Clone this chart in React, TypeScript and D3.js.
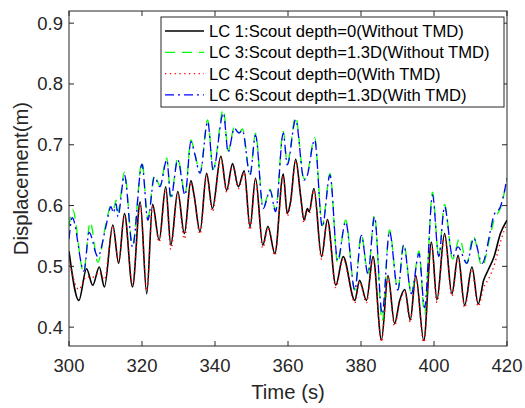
// App.tsx — displacement time history, four load cases, D3 scales + JSX.
import * as d3 from "d3";

// [time (s), displacement (m)] read at turning points of each curve
const lc1: [number, number][] = [
  [300, 0.525], [302.7, 0.444], [304.8, 0.496], [306.5, 0.469], [308.3, 0.499], [309.7, 0.466],
  [312.0, 0.568], [313.6, 0.505], [315.2, 0.587], [317.4, 0.466], [319.5, 0.606], [321.3, 0.455],
  [322.9, 0.602], [324.7, 0.543], [326.5, 0.631], [327.9, 0.535], [329.8, 0.623], [331.6, 0.554],
  [333.4, 0.641], [334.3, 0.616], [335.9, 0.557], [337.7, 0.653], [339.3, 0.595], [341.6, 0.681],
  [343.2, 0.625], [344.8, 0.669], [346.4, 0.631], [348.0, 0.657], [349.6, 0.565], [351.1, 0.645],
  [353.1, 0.535], [354.5, 0.566], [356.4, 0.521], [358.7, 0.652], [359.8, 0.587], [360.7, 0.606],
  [362.1, 0.676], [363.5, 0.614], [364.4, 0.576], [365.3, 0.595], [365.8, 0.59], [367.1, 0.628],
  [369.2, 0.516], [370.8, 0.577], [373.1, 0.469], [375.1, 0.516], [378.3, 0.444], [379.6, 0.477],
  [381.5, 0.444], [383.3, 0.516], [385.6, 0.379], [387.4, 0.485], [389.2, 0.406], [390.6, 0.444],
  [392.0, 0.462], [393.5, 0.412], [395.0, 0.485], [397.2, 0.378], [399.3, 0.54], [400.8, 0.445],
  [402.9, 0.554], [404.9, 0.455], [406.6, 0.518], [408.4, 0.436], [410.4, 0.499], [412.1, 0.438],
  [413.6, 0.477], [415.0, 0.496], [416.4, 0.515], [418.2, 0.554], [420, 0.576],
];

const lc3: [number, number][] = [
  [300, 0.565], [301.0, 0.593], [304.0, 0.49], [305.8, 0.573], [307.9, 0.507], [310.1, 0.57],
  [311.5, 0.6], [312.2, 0.594], [312.9, 0.609], [313.4, 0.59], [315.2, 0.655], [317.4, 0.535],
  [320.0, 0.672], [321.6, 0.58], [323.4, 0.65], [324.9, 0.633], [326.8, 0.678], [327.9, 0.614],
  [329.8, 0.678], [331.8, 0.619], [333.4, 0.708], [334.4, 0.688], [335.9, 0.655], [338.0, 0.741],
  [339.5, 0.66], [342.3, 0.758], [343.6, 0.69], [345.3, 0.729], [346.6, 0.72], [347.5, 0.726],
  [349.6, 0.652], [351.1, 0.719], [353.2, 0.597], [355.1, 0.627], [356.6, 0.592], [358.7, 0.722],
  [359.8, 0.669], [362.1, 0.746], [364.4, 0.644], [365.2, 0.65], [367.3, 0.712], [369.4, 0.567],
  [371.5, 0.653], [373.6, 0.505], [375.8, 0.576], [378.3, 0.461], [380.1, 0.553], [381.9, 0.488],
  [383.7, 0.585], [385.8, 0.41], [387.8, 0.56], [390.1, 0.461], [391.7, 0.538], [393.8, 0.455],
  [395.9, 0.525], [397.4, 0.422], [399.6, 0.622], [401.3, 0.516], [402.9, 0.602], [405.1, 0.512],
  [407.0, 0.546], [409.0, 0.505], [410.7, 0.55], [413.2, 0.5], [415.4, 0.55], [416.4, 0.575],
  [418.2, 0.596], [420, 0.642],
];

const lc4: [number, number][] = [
  [300, 0.51], [302.7, 0.462], [304.8, 0.483], [306.5, 0.482], [308.3, 0.49], [309.7, 0.478],
  [312.0, 0.565], [313.6, 0.508], [315.2, 0.583], [317.4, 0.47], [319.5, 0.6], [321.3, 0.46],
  [322.9, 0.598], [324.7, 0.54], [326.5, 0.626], [327.9, 0.528], [329.8, 0.62], [331.6, 0.545],
  [333.4, 0.638], [334.3, 0.614], [335.9, 0.553], [337.7, 0.65], [339.3, 0.59], [341.6, 0.678],
  [343.2, 0.622], [344.8, 0.666], [346.4, 0.628], [348.0, 0.654], [349.6, 0.56], [351.1, 0.642],
  [353.1, 0.53], [354.5, 0.563], [356.4, 0.518], [358.7, 0.649], [359.8, 0.583], [360.7, 0.603],
  [362.1, 0.673], [363.5, 0.611], [364.4, 0.572], [365.3, 0.592], [365.8, 0.587], [367.1, 0.625],
  [369.2, 0.512], [370.8, 0.574], [373.1, 0.465], [375.1, 0.512], [378.3, 0.44], [379.6, 0.474],
  [381.5, 0.44], [383.3, 0.512], [385.6, 0.376], [387.4, 0.482], [389.2, 0.402], [390.6, 0.44],
  [392.0, 0.458], [393.5, 0.408], [395.0, 0.482], [397.2, 0.375], [399.3, 0.536], [400.8, 0.441],
  [402.9, 0.55], [404.9, 0.451], [406.6, 0.514], [408.4, 0.432], [410.4, 0.495], [412.1, 0.434],
  [413.6, 0.465], [415.0, 0.48], [416.4, 0.5], [418.2, 0.54], [420, 0.572],
];

const lc6: [number, number][] = [
  [300, 0.545], [300.9, 0.58], [304.1, 0.492], [305.5, 0.556], [307.9, 0.516], [310.1, 0.565],
  [311.5, 0.598], [312.2, 0.588], [312.9, 0.603], [313.4, 0.582], [315.2, 0.65], [317.4, 0.532],
  [320.0, 0.668], [321.6, 0.576], [323.4, 0.647], [324.9, 0.631], [326.8, 0.675], [327.9, 0.612],
  [329.8, 0.675], [331.8, 0.617], [333.4, 0.705], [334.4, 0.686], [335.9, 0.653], [338.0, 0.738],
  [339.5, 0.658], [342.3, 0.752], [343.6, 0.688], [345.3, 0.727], [346.6, 0.719], [347.5, 0.724],
  [349.6, 0.65], [351.1, 0.716], [353.2, 0.595], [355.1, 0.625], [356.6, 0.59], [358.7, 0.719],
  [359.8, 0.667], [362.1, 0.741], [364.4, 0.642], [365.2, 0.648], [367.3, 0.708], [369.4, 0.565],
  [371.5, 0.65], [373.6, 0.51], [375.8, 0.573], [378.3, 0.461], [380.1, 0.551], [381.9, 0.488],
  [383.7, 0.581], [385.8, 0.422], [387.8, 0.557], [390.1, 0.461], [391.7, 0.535], [393.8, 0.455],
  [395.9, 0.521], [397.4, 0.432], [399.6, 0.617], [401.3, 0.516], [402.9, 0.598], [405.1, 0.516],
  [406.6, 0.532], [409.0, 0.505], [410.9, 0.546], [413.2, 0.505], [415.4, 0.557], [416.4, 0.584],
  [418.2, 0.598], [420, 0.645],
];

const xTicks = [300, 320, 340, 360, 380, 400, 420];
const yTicks = [0.4, 0.5, 0.6, 0.7, 0.8, 0.9];
const legendLabels = [
  "LC 1:Scout depth=0(Without TMD)",
  "LC 3:Scout depth=1.3D(Without TMD)",
  "LC 4:Scout depth=0(With TMD)",
  "LC 6:Scout depth=1.3D(With TMD)",
];

const W = 525;
const H = 408;
const m = { left: 69, right: 507, top: 11, bottom: 346 };
const axisColor = "#262626";
const font = "'Liberation Sans', Arial, sans-serif";

const series = [
  { data: lc1, color: "#000000", dash: "none", width: 1.6 },
  { data: lc3, color: "#00ff00", dash: "10,7", width: 1.3 },
  { data: lc4, color: "#ff0000", dash: "1.3,3.5", width: 1.4 },
  { data: lc6, color: "#0000ff", dash: "9,4,2,4", width: 1.3 },
];

export default function App() {
  const x = d3.scaleLinear().domain([300, 420]).range([m.left, m.right]);
  const y = d3.scaleLinear().domain([0.369, 0.92]).range([m.bottom, m.top]);
  const line = d3
    .line<[number, number]>()
    .x((d) => x(d[0]))
    .y((d) => y(d[1]))
    .curve(d3.curveMonotoneX);

  const tick = 5;
  const lg = { x: 161, y: 17, w: 343, h: 90, row: 21.3 };

  return (
    <svg
      width={W}
      height={H}
      style={{ position: "fixed", left: 0, top: 0, background: "#fff" }}
      fontFamily={font}
    >
      <rect width={W} height={H} fill="#fff" />
      <defs>
        <clipPath id="plot">
          <rect x={m.left} y={m.top} width={m.right - m.left} height={m.bottom - m.top} />
        </clipPath>
      </defs>

      <g clipPath="url(#plot)">
        {series.map((s, i) => (
          <path
            key={i}
            d={line(s.data) || ""}
            fill="none"
            stroke={s.color}
            strokeWidth={s.width}
            strokeDasharray={s.dash}
            strokeLinejoin="round"
          />
        ))}
      </g>

      {/* box with ticks on all four sides */}
      <rect
        x={m.left}
        y={m.top}
        width={m.right - m.left}
        height={m.bottom - m.top}
        fill="none"
        stroke={axisColor}
        strokeWidth={1}
      />
      {xTicks.map((t) => (
        <g key={"x" + t}>
          <line x1={x(t)} x2={x(t)} y1={m.bottom} y2={m.bottom - tick} stroke={axisColor} />
          <line x1={x(t)} x2={x(t)} y1={m.top} y2={m.top + tick} stroke={axisColor} />
          <text x={x(t)} y={372} textAnchor="middle" fontSize={18.5} fill={axisColor}>
            {t}
          </text>
        </g>
      ))}
      {yTicks.map((t) => (
        <g key={"y" + t}>
          <line x1={m.left} x2={m.left + tick} y1={y(t)} y2={y(t)} stroke={axisColor} />
          <line x1={m.right} x2={m.right - tick} y1={y(t)} y2={y(t)} stroke={axisColor} />
          <text x={63} y={y(t) + 6.5} textAnchor="end" fontSize={18.5} fill={axisColor}>
            {t.toFixed(1)}
          </text>
        </g>
      ))}

      <text x={(m.left + m.right) / 2} y={399} textAnchor="middle" fontSize={20.3} fill={axisColor}>
        Time (s)
      </text>
      <text
        transform={`translate(28,${(m.top + m.bottom) / 2}) rotate(-90)`}
        textAnchor="middle"
        fontSize={20.3}
        fill={axisColor}
      >
        Displacement(m)
      </text>

      {/* legend */}
      <rect x={lg.x} y={lg.y} width={lg.w} height={lg.h} fill="#fff" stroke={axisColor} strokeWidth={1} />
      {series.map((s, i) => {
        const cy = lg.y + 14 + i * lg.row;
        return (
          <g key={"l" + i}>
            <line
              x1={165}
              x2={204}
              y1={cy}
              y2={cy}
              stroke={s.color}
              strokeWidth={s.width}
              strokeDasharray={s.dash}
            />
            <text x={209} y={cy + 6} fontSize={16.6} fill="#000">
              {legendLabels[i]}
            </text>
          </g>
        );
      })}
    </svg>
  );
}
